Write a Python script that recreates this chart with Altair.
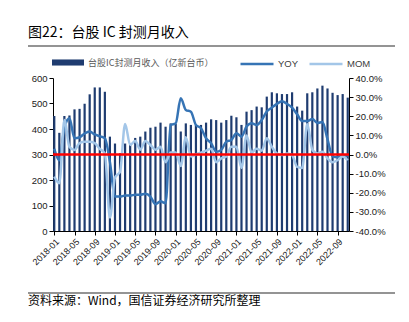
import altair as alt
import pandas as pd

# ---------------- data ----------------
months = [f"{y}-{m:02d}" for y in range(2018, 2023) for m in range(1, 13)][:59]
tick_labels = ["2018-01", "2018-05", "2018-09", "2019-01", "2019-05", "2019-09",
               "2020-01", "2020-05", "2020-09", "2021-01", "2021-05", "2021-09",
               "2022-01", "2022-05", "2022-09"]

revenue = [451, 385, 451, 453, 477, 479, 499, 536, 563, 563, 546, 370,
           343, 305, 343, 340, 365, 370, 390, 405, 409, 425, 409, 422,
           420, 390, 422, 416, 416, 416, 425, 438, 435, 425, 435, 452,
           446, 416, 468, 474, 488, 485, 527, 544, 540, 537, 537, 544,
           488, 472, 540, 544, 559, 570, 559, 542, 533, 537, 523]

yoy_pct = [3, -3, 14, 19, 8.5, 9, 11, 12, 10.5, 9.5, 8.5, -4,
           -22, -22, -21.5, -21.5, -21, -21, -20.5, -22, -26, -24.5, -25.5, 15.4,
           16.3, 29.4, 23.3, 22.4, 15.4, 13.7, 8.5, 5.9, 1.5, 2.4, 6.7, 7.6,
           11.1, 9.3, 14.6, 16.3, 15.4, 18, 22.5, 24.5, 26.5, 27.8, 26.5, 24.5,
           21, 17.5, 17.5, 18.5, 16.5, 17, 8, -1, -1.5, -0.5, -1]

mom_pct = [-11.6, -15, 18, 4, 2.4, 6, 6.7, 6.7, 6, 3, 0.5, -33,
           -12, -9, 16, 5, 7, 2.5, 7, 5, 2.5, 4, -4, 1,
           1, -6, 9, -1, 0, 1, 2, 3, -4, -2, -1, 4,
           4, -7, 10, 1, 3, 2, 8.5, 4, 0.5, -0.3, 0.5, -0.3,
           -6.5, -7, 16, 2.5, 0.5, 1.5, -2, -4, -3, -1, -3]

left_ticks = [0, 100, 200, 300, 400, 500, 600]
right_ticks = [-0.4, -0.3, -0.2, -0.1, 0.0, 0.1, 0.2, 0.3, 0.4]

title_text = "图22：台股 IC 封测月收入"
source_text = "资料来源：Wind，国信证券经济研究所整理"
bar_label = "台股IC封测月收入（亿新台币）"
series_names = ["YOY", "MOM"]

df = pd.DataFrame({
    "month": months,
    "revenue": revenue,
    "YOY": [v / 100 for v in yoy_pct],
    "MOM": [v / 100 for v in mom_pct],
})

NAVY = "#1F3C70"
C_YOY = "#3674B5"
C_MOM = "#A3C6E8"
CJK = "Noto Sans CJK SC"
LAT = "Liberation Sans"

x_enc = alt.X("month:O", sort=months,
              scale=alt.Scale(type="point", padding=0.25),
              axis=alt.Axis(values=tick_labels, labelAngle=-45, title=None,
                            labelFontSize=9, tickSize=4, labelPadding=2))

bars = alt.Chart(df).transform_calculate(series=f"'{bar_label}'").mark_bar(size=2.2).encode(
    x=x_enc,
    y=alt.Y("revenue:Q", scale=alt.Scale(domain=[0, 600], nice=False),
            axis=alt.Axis(orient="left", values=left_ticks, title=None, labelOverlap=False)),
    fill=alt.Fill("series:N", scale=alt.Scale(domain=[bar_label], range=[NAVY]),
                  legend=alt.Legend(title=None, orient="none", legendX=-1, legendY=-31.5,
                                    symbolType="M-1,-0.19L1,-0.19L1,0.19L-1,0.19Z",
                                    symbolSize=1024, symbolStrokeWidth=0,
                                    labelFont=CJK, labelFontSize=9,
                                    labelColor="#595959", labelOffset=4)),
)

yscale_r = alt.Scale(domain=[-0.4, 0.4], nice=False)
stroke_scale = alt.Scale(domain=series_names, range=[C_YOY, C_MOM])
right_axis = alt.Axis(orient="right", values=right_ticks, format=".1%", title=None,
                      labelOverlap=False,
                      labelExpr="replace(datum.label, '\u2212', '-')")

yoy_line = alt.Chart(df).transform_calculate(series="'YOY'").mark_line(
    strokeWidth=2.5, interpolate="monotone").encode(
    x=x_enc,
    y=alt.Y("YOY:Q", scale=yscale_r, axis=right_axis),
    stroke=alt.Stroke("series:N", scale=stroke_scale,
                      legend=alt.Legend(title=None, orient="none", legendX=186, legendY=-32,
                                        direction="horizontal", columns=2,
                                        symbolType="stroke", symbolSize=1089,
                                        symbolStrokeWidth=2.5, columnPadding=5,
                                        labelFont=LAT, labelFontSize=9.5,
                                        labelColor="#404040", labelOffset=3)),
)

mom_line = alt.Chart(df).transform_calculate(series="'MOM'").mark_line(
    strokeWidth=2.5, interpolate="monotone").encode(
    x=x_enc,
    y=alt.Y("MOM:Q", scale=yscale_r, axis=right_axis),
    stroke=alt.Stroke("series:N", scale=stroke_scale),
)

zero_rule = alt.Chart(pd.DataFrame({"zero": [0.0]})).mark_rule(
    color="#FF0000", strokeWidth=2.5).encode(y=alt.Y("zero:Q", scale=yscale_r, axis=right_axis))

lines = alt.layer(yoy_line, mom_line, zero_rule)

title_mark = alt.Chart(pd.DataFrame({"t": [title_text]})).mark_text(
    font=CJK, fontSize=14, color="#000000", align="left", baseline="middle"
).encode(x=alt.value(-25), y=alt.value(-45.5), text="t:N")

source_mark = alt.Chart(pd.DataFrame({"t": [source_text]})).mark_text(
    font=CJK, fontSize=12, color="#000000", align="left", baseline="middle"
).encode(x=alt.value(-25), y=alt.value(223), text="t:N")

top_line = alt.Chart(pd.DataFrame({"a": [0]})).mark_rule(color="#707070", strokeWidth=1.5).encode(
    x=alt.value(-25), x2=alt.value(342), y=alt.value(-32))
bottom_line = alt.Chart(pd.DataFrame({"a": [0]})).mark_rule(color="#707070", strokeWidth=1.5).encode(
    x=alt.value(-25), x2=alt.value(342), y=alt.value(215))

chart = alt.layer(bars, lines, title_mark, source_mark, top_line, bottom_line).resolve_scale(
    y="independent"
).properties(
    width=296, height=153,
    padding={"left": 53, "top": 78, "right": 60, "bottom": 91},
    autosize=alt.AutoSizeParams(type="none"),
).configure_view(stroke=None).configure_axis(
    labelFont=LAT, labelFontSize=9.5, labelColor="#1a1a1a",
    domainColor="#000000", tickColor="#000000", grid=False, tickSize=4,
)

chart.save("out.html", embed_options={"renderer": "svg", "actions": False})
